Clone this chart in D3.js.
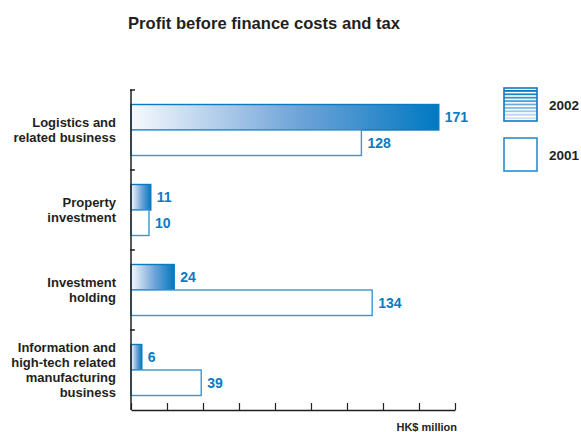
<!DOCTYPE html>
<html>
<head>
<meta charset="utf-8">
<script src="https://cdn.jsdelivr.net/npm/d3@7/dist/d3.min.js"></script>
<style>
  html, body { margin: 0; padding: 0; background: #fff; }
  svg { display: block; font-family: "Liberation Sans", Arial, sans-serif; }
</style>
</head>
<body>
<script>
const categories = [
  ["Logistics and", "related business"],
  ["Property", "investment"],
  ["Investment", "holding"],
  ["Information and", "high-tech related", "manufacturing", "business"]
];
const series = ["2002", "2001"];
const values2002 = [171, 11, 24, 6];
const values2001 = [128, 10, 134, 39];
const xTicks = [0, 20, 40, 60, 80, 100, 120, 140, 160, 180];
const title = "Profit before finance costs and tax";
const unitLabel = "HK$ million";

const W = 581, H = 432;
const BLUE = "#0a7bc2";
const DARK = "#231f20";

const svg = d3.select("body").append("svg").attr("width", W).attr("height", H);

const defs = svg.append("defs");
const grad = defs.append("linearGradient").attr("id", "g2002")
  .attr("x1", "0%").attr("x2", "100%").attr("y1", "0%").attr("y2", "0%");
grad.append("stop").attr("offset", "0%").attr("stop-color", "#f7f9fd");
grad.append("stop").attr("offset", "55%").attr("stop-color", "#6ea3d8");
grad.append("stop").attr("offset", "100%").attr("stop-color", "#0079c1");

const x = d3.scaleLinear().domain([0, 180]).range([131, 455]);
const catKeys = categories.map(c => c.join(" "));
const y = d3.scaleBand().domain(catKeys).range([90, 410]);
const ySub = d3.scaleBand().domain(series).range([14.5, 65.5]);

// title
svg.append("text").attr("x", 264).attr("y", 29).attr("text-anchor", "middle")
  .attr("font-size", 17).attr("font-weight", "bold").attr("fill", DARK)
  .attr("textLength", 272).attr("lengthAdjust", "spacingAndGlyphs")
  .text(title);

// bars
const rows = catKeys.map((k, i) => ({ key: k, lines: categories[i], v: [values2002[i], values2001[i]] }));
const g = svg.append("g");
rows.forEach(r => {
  series.forEach((s, j) => {
    const y0 = y(r.key) + ySub(s);
    g.append("rect")
      .attr("x", x(0)).attr("y", y0)
      .attr("width", x(r.v[j]) - x(0)).attr("height", ySub.bandwidth())
      .attr("fill", j === 0 ? "url(#g2002)" : "#fff")
      .attr("stroke", j === 0 ? "#0a7bc2" : "#3a96d4")
      .attr("stroke-width", 1.4);
    g.append("text")
      .attr("x", x(r.v[j]) + 6).attr("y", y0 + ySub.bandwidth() / 2 + 5)
      .attr("font-size", 14).attr("font-weight", "bold").attr("fill", BLUE)
      .text(r.v[j]);
  });
  // category labels
  const cy = y(r.key) + y.bandwidth() / 2;
  const n = r.lines.length;
  r.lines.forEach((ln, li) => {
    svg.append("text").attr("x", 116).attr("y", cy + (li - (n - 1) / 2) * 15 + 4.5)
      .attr("text-anchor", "end").attr("font-size", 13).attr("font-weight", "bold")
      .attr("fill", DARK).text(ln);
  });
});

// left axis
svg.append("line").attr("x1", x(0)).attr("x2", x(0)).attr("y1", 89.5).attr("y2", 410)
  .attr("stroke", DARK).attr("stroke-width", 1.5);
svg.selectAll(".ltick").data(catKeys).enter().append("line")
  .attr("x1", x(0) - 1).attr("x2", x(0) + 4)
  .attr("y1", d => y(d)).attr("y2", d => y(d))
  .attr("stroke", DARK).attr("stroke-width", 1.5);

// bottom axis
const axis = d3.axisBottom(x).tickValues(xTicks).tickSize(-7).tickSizeOuter(0).tickFormat("");
const ax = svg.append("g").attr("transform", "translate(0,410)").call(axis);
ax.select(".domain").attr("stroke", DARK).attr("stroke-width", 1.6);
ax.selectAll(".tick line").attr("stroke", DARK).attr("stroke-width", 1.2);

svg.append("text").attr("x", 457).attr("y", 431).attr("text-anchor", "end")
  .attr("font-size", 11).attr("font-weight", "bold").attr("fill", DARK).text(unitLabel);

// legend
const lg = svg.append("g");
const boxY = [88, 138];
series.forEach((s, j) => {
  const bx = 504, by = boxY[j], bs = 33;
  if (j === 0) {
    const stripes = d3.range(9);
    const col = d3.scaleLinear().domain([0, 8]).range(["#0079c1", "#d2e2f3"]);
    lg.selectAll(".stripe").data(stripes).enter().append("rect")
      .attr("x", bx).attr("y", d => by + 2 + d * 3.4)
      .attr("width", bs).attr("height", 1.8)
      .attr("fill", d => col(d));
  }
  lg.append("rect").attr("x", bx).attr("y", by).attr("width", bs).attr("height", bs)
    .attr("fill", "none").attr("stroke", j === 0 ? "#0a7bc2" : "#2a8ccf").attr("stroke-width", 1.6);
  lg.append("text").attr("x", 549).attr("y", by + bs / 2 + 5)
    .attr("font-size", 13.5).attr("font-weight", "bold").attr("fill", DARK).text(s);
});
</script>
</body>
</html>
